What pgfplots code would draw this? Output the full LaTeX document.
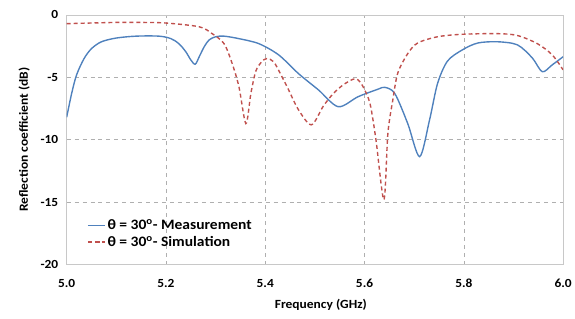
\documentclass[border=0pt]{standalone}
\usepackage{fontspec}
\setmainfont{Carlito}[FakeStretch=1.08]
\usepackage{pgfplots}
\pgfplotsset{compat=1.18}
\definecolor{meas}{RGB}{79,129,189}
\definecolor{simu}{RGB}{192,80,77}
\definecolor{gridc}{RGB}{175,175,175}
\definecolor{framec}{RGB}{200,200,200}
\begin{document}
\begin{tikzpicture}[x=1bp,y=1bp]
\begin{axis}[
  scale only axis,
  width=499bp, height=251bp,
  xmin=5, xmax=6, ymin=-20, ymax=0,
  xtick={5,5.2,...,6.01}, ytick={-20,-15,...,0},
  /pgf/number format/assume math mode=true,
  xticklabel style={/pgf/number format/fixed, /pgf/number format/fixed zerofill,
    /pgf/number format/precision=1, yshift=-11bp},
  yticklabel style={xshift=-5bp},
  tick label style={font=\fontsize{12.5}{14}\selectfont\bfseries},
  major tick length=0pt,
  axis line style={framec, line width=0.8pt},
  grid=major,
  major grid style={gridc, line width=0.6pt, dash pattern=on 4bp off 4bp},
  xlabel={Frequency (GHz)},
  ylabel={Reflection coefficient (dB)},
  label style={font=\fontsize{12.6}{14}\selectfont\bfseries},
  xlabel style={yshift=-5bp, xshift=6bp},
  ylabel style={yshift=4bp},
  legend style={at={(0.035,0.05)}, anchor=south west, draw=none, fill=none,
    font=\fontsize{14.5}{16}\selectfont\bfseries, row sep=1bp},
  legend cell align=left,
]
\addplot[meas, line width=1.4pt, smooth] coordinates {
(5.000,-8.2) (5.010,-6.3) (5.020,-4.8) (5.035,-3.5) (5.050,-2.7)
(5.070,-2.15) (5.100,-1.85) (5.140,-1.7) (5.186,-1.7) (5.210,-1.9)
(5.226,-2.3) (5.240,-2.95) (5.250,-3.6) (5.259,-3.95) (5.267,-3.35)
(5.277,-2.55) (5.287,-2.0) (5.300,-1.75) (5.317,-1.7) (5.347,-1.9)
(5.387,-2.3) (5.427,-3.2) (5.467,-4.7) (5.507,-6.0) (5.547,-7.35)
(5.587,-6.55) (5.627,-5.95) (5.641,-5.8) (5.661,-6.3) (5.687,-8.7)
(5.711,-11.35) (5.731,-8.4) (5.747,-5.5) (5.767,-3.7) (5.797,-2.8)
(5.828,-2.25) (5.868,-2.15) (5.908,-2.4) (5.938,-3.45) (5.958,-4.55)
(5.978,-4.0) (6.000,-3.35)
};
\addlegendentry{θ = 30\textsuperscript{o}- Measurement}
\addplot[simu, line width=1.4pt, smooth, dash pattern=on 4bp off 3bp] coordinates {
(5.000,-0.7) (5.100,-0.6) (5.150,-0.6) (5.200,-0.65) (5.267,-0.95)
(5.293,-1.5) (5.317,-2.3) (5.333,-3.85) (5.347,-5.75) (5.361,-8.7)
(5.371,-6.3) (5.381,-4.5) (5.393,-3.75) (5.403,-3.5) (5.417,-3.75)
(5.433,-4.9) (5.447,-6.0) (5.467,-7.6) (5.493,-8.8) (5.517,-7.3)
(5.537,-6.3) (5.557,-5.6) (5.577,-5.15) (5.587,-5.2) (5.597,-5.75)
(5.611,-7.1) (5.623,-10) (5.639,-14.8) (5.647,-9.5) (5.657,-6.8)
(5.667,-4.65) (5.687,-3.1) (5.707,-2.25) (5.747,-1.75) (5.797,-1.55)
(5.868,-1.5) (5.908,-1.65) (5.948,-2.3) (5.978,-3.2) (6.000,-4.4)
};
\addlegendentry{θ = 30\textsuperscript{o}- Simulation}
\end{axis}
\path ([shift={(-67bp,-54bp)}]current axis.south west) rectangle ([shift={(9bp,15bp)}]current axis.north east);
\end{tikzpicture}
\end{document}
